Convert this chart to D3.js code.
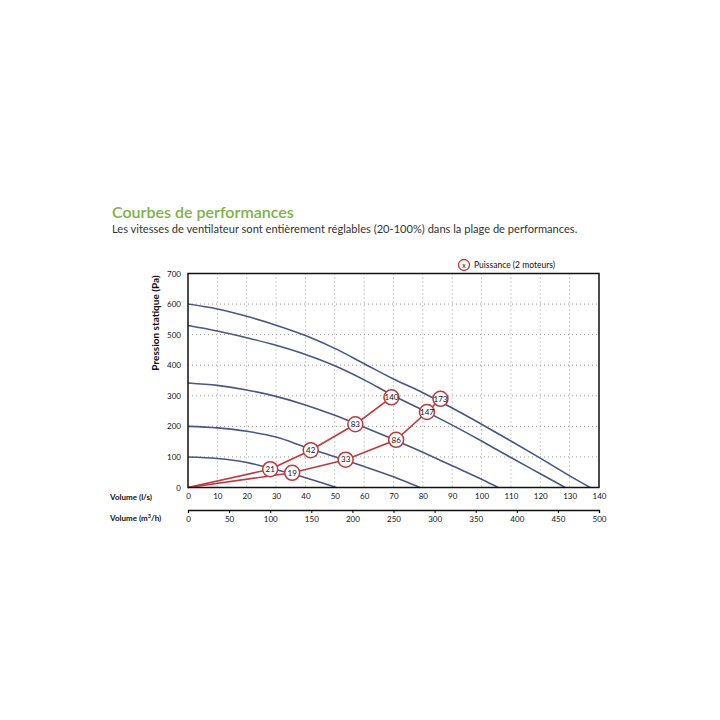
<!DOCTYPE html>
<html>
<head>
<meta charset="utf-8">
<script src="https://d3js.org/d3.v7.min.js"></script>
<style>
    body { margin: 0; background: #fff; }
    svg text { font-family: Futura, Lato, "Noto Sans", sans-serif; }
</style>
</head>
<body>
<div id="canvas"></div>

<script>
    const width = 720;
    const height = 720;

    // fan curves: volume (l/s) and static pressure (Pa)
    const curve1Q = [0, 10, 20, 30, 40, 50, 60, 70, 80, 90, 100, 110, 120, 130, 137];
    const curve1P = [600, 584, 560, 531, 497, 455, 405, 355, 310, 260, 207, 152, 96, 38, 0];
    const curve2Q = [0, 10, 20, 30, 40, 50, 60, 70, 80, 90, 100, 110, 120, 128.5];
    const curve2P = [530, 512, 490, 465, 435, 398, 352, 300, 253, 204, 152, 98, 45, 0];
    const curve3Q = [0, 10, 20, 30, 40, 50, 60, 70, 80, 90, 100, 105.7];
    const curve3P = [342, 334, 319, 298, 270, 236, 197, 157, 115, 71, 27, 0];
    const curve4Q = [0, 10, 20, 30, 40, 50, 60, 70, 79];
    const curve4P = [200, 195, 184, 165, 132, 101, 69, 35, 0];
    const curve5Q = [0, 10, 20, 30, 40, 50.6];
    const curve5P = [100, 95, 82, 58, 32, 0];

    // power points (W), two series
    const powerAQ = [0, 28, 41.8, 57, 69.3];
    const powerAP = [0, 60, 122, 207, 295];
    const powerALabels = [null, 21, 42, 83, 140];
    const powerBQ = [0, 35.5, 53.7, 70.9, 81.4, 86];
    const powerBP = [0, 48, 91, 156, 247, 290];
    const powerBLabels = [null, 19, 33, 86, 147, 173];

    const yTicks = [0, 100, 200, 300, 400, 500, 600, 700];
    const xTicks = [0, 10, 20, 30, 40, 50, 60, 70, 80, 90, 100, 110, 120, 130, 140];
    const m3hTicks = [0, 50, 100, 150, 200, 250, 300, 350, 400, 450, 500];

    const blue = "#4a5683";
    const red = "#c4373f";

    const svg = d3.select("#canvas")
        .append("svg")
        .attr("width", width)
        .attr("height", height);

    const x = d3.scaleLinear().domain([0, 140]).range([188, 599]);
    const y = d3.scaleLinear().domain([0, 700]).range([487.5, 273.5]);
    const xm3 = d3.scaleLinear().domain([0, 500]).range([188, 599]);

    // titles
    svg.append("text")
        .attr("x", 112).attr("y", 218)
        .attr("fill", "#7cb342")
        .attr("font-size", 16)
        .attr("font-weight", 600)
        .text("Courbes de performances");

    svg.append("text")
        .attr("x", 112).attr("y", 233)
        .attr("fill", "#333")
        .attr("font-size", 11.1)
        .text("Les vitesses de ventilateur sont entièrement réglables (20-100%) dans la plage de performances.");

    // grid
    svg.append("g")
        .selectAll("line")
        .data(xTicks.slice(1, -1))
        .join("line")
        .attr("x1", d => x(d)).attr("x2", d => x(d))
        .attr("y1", y(700)).attr("y2", y(0))
        .attr("stroke", "#999")
        .attr("stroke-width", 1)
        .attr("stroke-dasharray", "1,3");

    svg.append("g")
        .selectAll("line")
        .data(yTicks.slice(1, -1))
        .join("line")
        .attr("x1", x(0)).attr("x2", x(140))
        .attr("y1", d => y(d)).attr("y2", d => y(d))
        .attr("stroke", "#999")
        .attr("stroke-width", 1)
        .attr("stroke-dasharray", "1,3");

    // fan curves
    const line = d3.line()
        .x(d => x(d[0]))
        .y(d => y(d[1]))
        .curve(d3.curveMonotoneX);

    const curves = [
        d3.zip(curve1Q, curve1P),
        d3.zip(curve2Q, curve2P),
        d3.zip(curve3Q, curve3P),
        d3.zip(curve4Q, curve4P),
        d3.zip(curve5Q, curve5P)
    ];

    svg.append("g")
        .selectAll("path")
        .data(curves)
        .join("path")
        .attr("d", line)
        .attr("fill", "none")
        .attr("stroke", blue)
        .attr("stroke-width", 1.6);

    // power lines
    const linear = d3.line().x(d => x(d[0])).y(d => y(d[1]));
    const powerA = d3.zip(powerAQ, powerAP, powerALabels);
    const powerB = d3.zip(powerBQ, powerBP, powerBLabels);

    svg.append("g")
        .selectAll("path")
        .data([powerA, powerB])
        .join("path")
        .attr("d", linear)
        .attr("fill", "none")
        .attr("stroke", red)
        .attr("stroke-width", 1.6);

    const markers = svg.append("g")
        .selectAll("g")
        .data(powerA.concat(powerB).filter(d => d[2] !== null))
        .join("g")
        .attr("transform", d => `translate(${x(d[0])},${y(d[1])})`);

    markers.append("circle")
        .attr("r", 7.5)
        .attr("fill", "#fff")
        .attr("stroke", red)
        .attr("stroke-width", 1.5);

    markers.append("text")
        .attr("text-anchor", "middle")
        .attr("dy", "0.35em")
        .attr("font-size", 8)
        .attr("fill", "#111")
        .text(d => d[2]);

    // frame
    svg.append("rect")
        .attr("x", x(0)).attr("y", y(700))
        .attr("width", x(140) - x(0))
        .attr("height", y(0) - y(700))
        .attr("fill", "none")
        .attr("stroke", "#111")
        .attr("stroke-width", 1.5);

    // axes
    const yAxis = svg.append("g")
        .attr("transform", `translate(${x(0)},0)`)
        .call(d3.axisLeft(y).tickValues(yTicks).tickSize(0).tickPadding(7));
    yAxis.select(".domain").remove();

    const xAxis = svg.append("g")
        .attr("transform", `translate(0,${y(0)})`)
        .call(d3.axisBottom(x).tickValues(xTicks).tickSize(0).tickPadding(6));
    xAxis.select(".domain").remove();

    const m3Axis = svg.append("g")
        .attr("transform", "translate(0,510)")
        .call(d3.axisBottom(xm3).tickValues(m3hTicks).tickSizeOuter(0).tickSize(3).tickPadding(3));
    m3Axis.select(".domain").attr("stroke", "#111").attr("stroke-width", 1.3);

    svg.selectAll(".tick text")
        .attr("font-family", "Futura, Lato, sans-serif")
        .attr("font-size", 8)
        .attr("fill", "#111");

    // axis titles
    svg.append("text")
        .attr("transform", "translate(159,323) rotate(-90)")
        .attr("text-anchor", "middle")
        .attr("font-size", 10)
        .attr("font-weight", "bold")
        .attr("fill", "#111")
        .text("Pression statique (Pa)");

    svg.append("text")
        .attr("x", 110).attr("y", 500)
        .attr("font-size", 8)
        .attr("font-weight", "bold")
        .attr("fill", "#111")
        .text("Volume (l/s)");

    const m3Label = svg.append("text")
        .attr("x", 110).attr("y", 521)
        .attr("font-size", 8)
        .attr("font-weight", "bold")
        .attr("fill", "#111");
    m3Label.append("tspan").text("Volume (m");
    m3Label.append("tspan").attr("dy", -3).attr("font-size", 5.5).text("3");
    m3Label.append("tspan").attr("dy", 3).text("/h)");

    // legend
    svg.append("circle")
        .attr("cx", 464).attr("cy", 265)
        .attr("r", 5.5)
        .attr("fill", "#fff")
        .attr("stroke", red)
        .attr("stroke-width", 1.3);
    svg.append("text")
        .attr("x", 464).attr("y", 267.5)
        .attr("text-anchor", "middle")
        .attr("font-size", 7)
        .attr("fill", "#111")
        .text("x");
    svg.append("text")
        .attr("x", 474).attr("y", 268)
        .attr("font-size", 8.5)
        .attr("fill", "#111")
        .text("Puissance (2 moteurs)");
</script>
</body>
</html>
